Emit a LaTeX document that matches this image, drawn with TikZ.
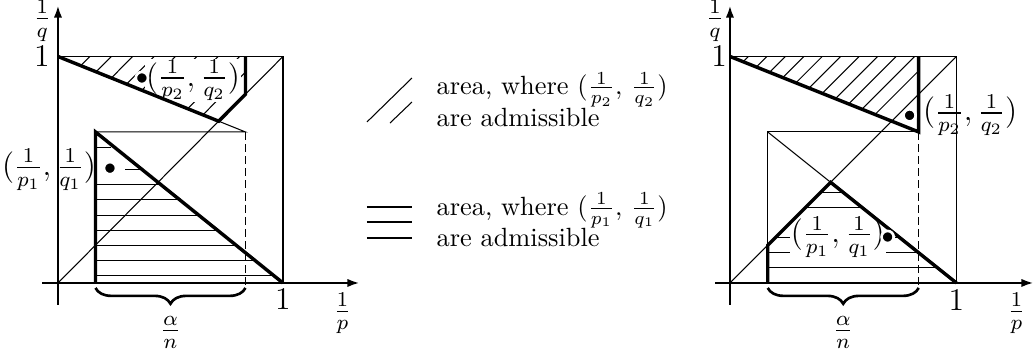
\documentclass[tikz,border=0pt]{standalone}
\usepackage{amsmath}
\usepackage{tikz}
\usetikzlibrary{arrows.meta,decorations.pathreplacing}

\begin{document}
\begin{tikzpicture}[
>={Latex[length=1.6mm,width=1.1mm]},
thinline/.style={line width=0.4pt},
thickline/.style={line width=1.3pt},
axis/.style={->,line width=0.8pt},
hatchline/.style={line width=0.4pt},
dashline/.style={line width=0.4pt,dash pattern=on 3pt off 1.6pt},
bracemark/.style={decorate,decoration={brace,mirror,amplitude=6pt},line width=1pt},
ptdot/.style={circle,fill=black,draw=white,line width=1pt,inner sep=0pt,minimum size=4.6pt},
lbl/.style={inner sep=1pt},
axlbl/.style={inner sep=0.5pt,font=\large},
ptlbl/.style={inner sep=0.5pt,font=\large},
whitelbl/.style={ptlbl,fill=white}
]

\useasboundingbox (0,0) rectangle (13.787,4.653);

%%%%%%%%%%%%%%%%%%%%%%%%%%%%%%%%%%%%%%%%%%%%%
% Left picture
%%%%%%%%%%%%%%%%%%%%%%%%%%%%%%%%%%%%%%%%%%%%%

\begin{scope}[shift={(0.773,0.88)},x=3cm,y=3.02cm]

\coordinate (O) at (0,0);
\coordinate (X1) at (1,0);
\coordinate (Y1) at (0,1);
\coordinate (T1) at (1,1);
\coordinate (A) at (0.1667,0);
\coordinate (Q) at (0.1667,0.6667);
\coordinate (P) at (0.8333,0.6667);
\coordinate (K) at (0.7143,0.7143);
\coordinate (M) at (0.8333,0.8333);
\coordinate (N) at (0.8333,1);
\coordinate (B) at (0.8333,-0.022);
\coordinate (Ab) at (0.1667,-0.022);

% hatching
\begin{scope}
\clip (Y1) -- (K) -- (M) -- (N) -- cycle;
\foreach \i in {1,...,9}
  \draw[hatchline] ({0.047+0.095*\i-0.6},0.4) -- ({0.047+0.095*\i+0.2},1.2);
\end{scope}

\begin{scope}
\clip (A) -- (Q) -- (X1) -- cycle;
\foreach \k in {0.5,1.5,...,6.5}
  \draw[hatchline] (0,{\k/15}) -- (1,{\k/15});
\end{scope}
\draw[hatchline] (0.298,0.5) -- (0.375,0.5);
\draw[hatchline] (0.1667,0.6) -- (0.236,0.6);

% labels
\node[whitelbl] (p2lbl) at (0.6,0.894) {$(\frac{1}{p_2},\frac{1}{q_2})$};
\node[ptlbl] (p1lbl) at (-0.04,0.5) {$(\frac{1}{p_1},\frac{1}{q_1})$};

% thin lines
\draw[thinline] (Y1) -- (T1) -- (X1);
\draw[thinline] (O) -- (T1);
\draw[thinline] (K) -- (P) -- (Q);
\draw[dashline] (P) -- (B);

% axes
\draw[axis] (-0.07,0) -- (1.34,0);
\draw[axis] (0,-0.097) -- (0,1.225);

% thick lines
\draw[thickline] (Y1) -- (K) -- (M) -- (N);
\draw[thickline] (A) -- (Q) -- (X1);

\node[ptdot] (p2dot) at (0.373,0.905) {};
\node[ptdot] (p1dot) at (0.231,0.507) {};

\node[axlbl] (one_y) at (-0.071,1) {1};
\node[axlbl] (one_x) at (1,-0.07) {1};
\node[axlbl] (qlbl) at (-0.07,1.158) {$\frac{1}{q}$};
\node[axlbl] (plbl) at (1.265,-0.135) {$\frac{1}{p}$};

\draw[bracemark] (Ab) -- (B) node[midway,below=7pt,font=\large] (alpha) {$\frac{\alpha}{n}$};

\end{scope}

%%%%%%%%%%%%%%%%%%%%%%%%%%%%%%%%%%%%%%%%%%%%%
% Legend
%%%%%%%%%%%%%%%%%%%%%%%%%%%%%%%%%%%%%%%%%%%%%

\draw[hatchline] (4.893,3.027) -- (5.493,3.613);
\draw[hatchline] (5.2,3.013) -- (5.493,3.293);
\foreach \y in {1.893,1.693,1.48}
  \draw[hatchline] (4.893,\y) -- (5.493,\y);

\node[lbl,anchor=west,align=left] (leg2) at (5.78,3.33)
{area, where $(\frac{1}{p_2},\,\frac{1}{q_2})$\\are admissible};
\node[lbl,anchor=west,align=left] (leg1) at (5.78,1.72)
{area, where $(\frac{1}{p_1},\,\frac{1}{q_1})$\\are admissible};

%%%%%%%%%%%%%%%%%%%%%%%%%%%%%%%%%%%%%%%%%%%%%
% Right picture
%%%%%%%%%%%%%%%%%%%%%%%%%%%%%%%%%%%%%%%%%%%%%

\begin{scope}[shift={(9.733,0.88)},x=3.02cm,y=3.02cm]

\coordinate (O) at (0,0);
\coordinate (X1) at (1,0);
\coordinate (Y1) at (0,1);
\coordinate (T1) at (1,1);
\coordinate (A) at (0.1667,0);
\coordinate (L) at (0.1667,0.1667);
\coordinate (Q) at (0.1667,0.6667);
\coordinate (P) at (0.8333,0.6667);
\coordinate (R) at (0.4444,0.4444);
\coordinate (N) at (0.8333,1);
\coordinate (B) at (0.8333,-0.022);
\coordinate (Ab) at (0.1667,-0.022);

% hatching
\begin{scope}
\clip (Y1) -- (P) -- (N) -- cycle;
\foreach \i in {1,...,11}
  \draw[hatchline] ({0.0815*\i-0.6},0.4) -- ({0.0815*\i+0.2},1.2);
\end{scope}

\begin{scope}
\clip (A) -- (L) -- (R) -- (X1) -- cycle;
\foreach \k in {1,...,6}
  \draw[hatchline] (0,{\k/15}) -- (1,{\k/15});
\end{scope}

% labels
\node[whitelbl] (p1lbl) at (0.476,0.203) {$(\frac{1}{p_1},\frac{1}{q_1})$};
\node[ptlbl,anchor=west] (p2lbl) at (0.845,0.74) {$(\frac{1}{p_2},\frac{1}{q_2})$};

% thin lines
\draw[thinline] (Y1) -- (T1) -- (X1);
\draw[thinline] (O) -- (T1);
\draw[thinline] (L) -- (Q) -- (P);
\draw[thinline] (Q) -- (R);
\draw[dashline] (P) -- (B);

% axes
\draw[axis] (-0.066,0) -- (1.34,0);
\draw[axis] (0,-0.097) -- (0,1.225);

% thick lines
\draw[thickline] (Y1) -- (P) -- (N);
\draw[thickline] (A) -- (L) -- (R) -- (X1);

\node[ptdot] (p1dot) at (0.696,0.203) {};
\node[ptdot] (p2dot) at (0.793,0.74) {};

\node[axlbl] (one_y) at (-0.048,1) {1};
\node[axlbl] (one_x) at (1,-0.075) {1};
\node[axlbl] (qlbl) at (-0.066,1.158) {$\frac{1}{q}$};
\node[axlbl] (plbl) at (1.265,-0.135) {$\frac{1}{p}$};

\draw[bracemark] (Ab) -- (B) node[midway,below=7pt,font=\large] (alpha) {$\frac{\alpha}{n}$};

\end{scope}

\end{tikzpicture}
\end{document}
